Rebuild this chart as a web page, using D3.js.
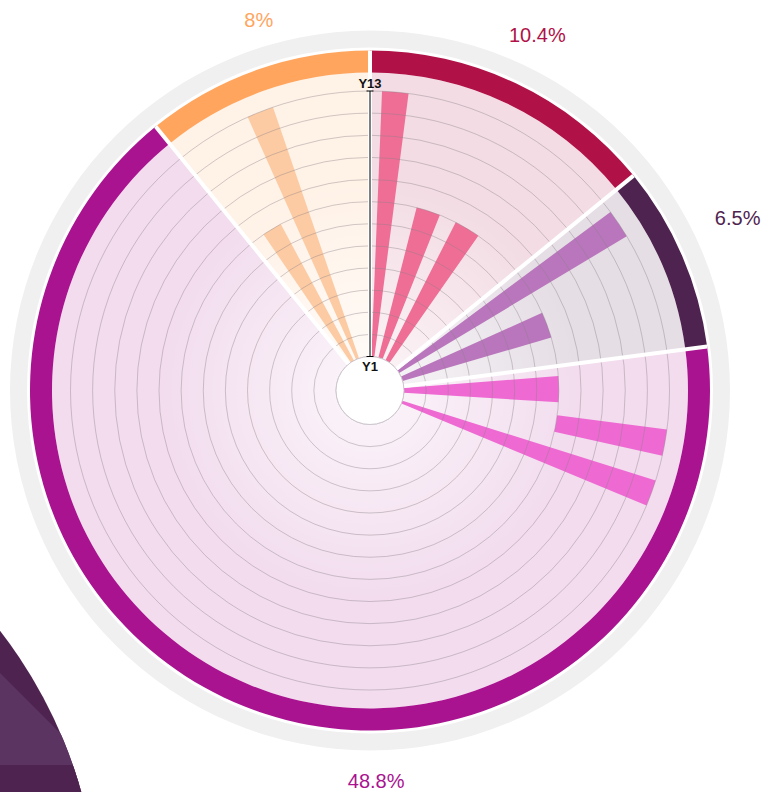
<!DOCTYPE html>
<html>
<head>
<meta charset="utf-8">
<script src="https://cdn.jsdelivr.net/npm/d3@7"></script>
<style>
  body { margin: 0; background: #fff; }
  svg { display: block; font-family: "Liberation Sans", Arial, sans-serif; }
</style>
</head>
<body>
<svg width="763" height="792"></svg>
<script>
// segments, clockwise from the top
var shares = [10.4, 6.5, 48.8, 8];
var shareLabels = ["10.4%", "6.5%", "48.8%", "8%"];
var ringColors = ["#b01248", "#4f2350", "#aa1390", "#ffa55e"];
var barColors = ["#ef6e96", "#b976bc", "#ee6ad2", "#fccba3"];

// bars: which segment, angle span (degrees from top), year span
var barGroup = [0, 0, 0, 1, 1, 2, 2, 2, 3, 3];
var barStartDeg = [2.3, 14.3, 27.0, 53.4, 65.7, 85.6, 97.5, 107.5, 325.7, 335.9];
var barEndDeg = [7.4, 21.7, 35.0, 59.0, 73.7, 93.6, 102.6, 112.6, 331.8, 341.1];
var barFrom = [1, 1, 1, 1, 1, 1, 8, 1, 1, 1];
var barTo = [13, 8, 8, 13, 8, 8, 13, 13, 8, 13];

var years = d3.range(1, 14);
var axisTicks = [1, 13];

// where the share labels sit (polar: degrees, radius)
var labelPolar = [[25.2, 393], [64.9, 406], [179.1, 391], [-16.7, 387]];

var svg = d3.select("svg"),
    cx = 370, cy = 390.5,
    holeR = 34, bgR = 318, ringR = 340;

var deg = d3.scaleLinear().domain([0, 360]).range([0, 2 * Math.PI]);
var r = d3.scaleLinear().domain([1, 13]).range([holeR, 299.5]);

var defs = svg.append("defs");
var glow = defs.append("radialGradient").attr("id", "glow");
glow.append("stop").attr("offset", "0%").attr("stop-color", "#fff").attr("stop-opacity", 0.75);
glow.append("stop").attr("offset", "100%").attr("stop-color", "#fff").attr("stop-opacity", 0);

// decorative shape in the lower left corner
defs.append("clipPath").attr("id", "decoClip")
    .append("circle").attr("cx", -373).attr("cy", 920).attr("r", 472);
svg.append("circle").attr("cx", -373).attr("cy", 920).attr("r", 472).attr("fill", "#4f2350");
svg.append("path")
    .attr("d", "M0,673L110,783L0,783Z")
    .attr("clip-path", "url(#decoClip)")
    .attr("fill", "#5c3462");
svg.append("rect").attr("x", 0).attr("y", 765).attr("width", 120).attr("height", 30)
    .attr("clip-path", "url(#decoClip)").attr("fill", "#4f2350");

var g = svg.append("g").attr("transform", "translate(" + cx + "," + cy + ")");

// outer grey band
g.append("path")
    .attr("d", d3.arc().innerRadius(343).outerRadius(360).startAngle(0).endAngle(2 * Math.PI)())
    .attr("fill", "#f0f0f0");

var slices = d3.pie().sort(null).value(function (d) { return d; })(shares);

var bgArc = d3.arc().innerRadius(0).outerRadius(bgR);
var ringArc = d3.arc().innerRadius(bgR).outerRadius(ringR);

g.selectAll(".bg")
    .data(slices)
    .enter()
    .append("path")
    .attr("class", "bg")
    .attr("d", bgArc)
    .attr("fill", function (d, i) { return ringColors[i]; })
    .attr("fill-opacity", 0.15);

g.selectAll(".ring")
    .data(slices)
    .enter()
    .append("path")
    .attr("class", "ring")
    .attr("d", ringArc)
    .attr("fill", function (d, i) { return ringColors[i]; });

g.append("circle").attr("r", 210).attr("fill", "url(#glow)");

// bars
var bars = barGroup.map(function (grp, i) {
    return {grp: grp, a0: barStartDeg[i], a1: barEndDeg[i], from: barFrom[i], to: barTo[i]};
});
var barArc = d3.arc()
    .innerRadius(function (d) { return r(d.from); })
    .outerRadius(function (d) { return r(d.to); })
    .startAngle(function (d) { return deg(d.a0); })
    .endAngle(function (d) { return deg(d.a1); });

g.selectAll(".bar")
    .data(bars)
    .enter()
    .append("path")
    .attr("class", "bar")
    .attr("d", barArc)
    .attr("fill", function (d) { return barColors[d.grp]; });

// grid circles
g.selectAll(".grid")
    .data(years)
    .enter()
    .append("circle")
    .attr("class", "grid")
    .attr("r", function (d) { return r(d); })
    .attr("fill", "none")
    .attr("stroke", "#8a8088")
    .attr("stroke-opacity", 0.4)
    .attr("stroke-width", 1);

// white separators between segments
g.selectAll(".sep")
    .data(slices)
    .enter()
    .append("line")
    .attr("class", "sep")
    .attr("x1", 0).attr("y1", 0)
    .attr("x2", function (d) { return ringR * Math.sin(d.startAngle); })
    .attr("y2", function (d) { return -ringR * Math.cos(d.startAngle); })
    .attr("stroke", "#fff")
    .attr("stroke-width", 4);

// hole
g.append("circle")
    .attr("r", holeR)
    .attr("fill", "#fff")
    .attr("stroke", "#cfc6ce")
    .attr("stroke-width", 1);

// radial year axis
g.append("line")
    .attr("x1", 0).attr("x2", 0)
    .attr("y1", -r(1)).attr("y2", -r(13))
    .attr("stroke", "#000")
    .attr("stroke-width", 1);

g.selectAll(".tick")
    .data(axisTicks)
    .enter()
    .append("line")
    .attr("class", "tick")
    .attr("x1", -3.5).attr("x2", 3.5)
    .attr("y1", function (d) { return -r(d); })
    .attr("y2", function (d) { return -r(d); })
    .attr("stroke", "#000");

g.selectAll(".tickLabel")
    .data(axisTicks)
    .enter()
    .append("text")
    .attr("class", "tickLabel")
    .attr("x", 0)
    .attr("y", function (d, i) { return i === 0 ? -r(d) + 14 : -r(d) - 3; })
    .attr("text-anchor", "middle")
    .style("font-size", "13px")
    .style("font-weight", "bold")
    .attr("fill", "#111")
    .text(function (d) { return "Y" + d; });

// share labels
g.selectAll(".share")
    .data(shareLabels)
    .enter()
    .append("text")
    .attr("class", "share")
    .attr("x", function (d, i) { return labelPolar[i][1] * Math.sin(deg(labelPolar[i][0])); })
    .attr("y", function (d, i) { return -labelPolar[i][1] * Math.cos(deg(labelPolar[i][0])); })
    .attr("dy", "0.35em")
    .attr("text-anchor", "middle")
    .style("font-size", "20px")
    .attr("fill", function (d, i) { return ringColors[i]; })
    .text(function (d) { return d; });
</script>
</body>
</html>
